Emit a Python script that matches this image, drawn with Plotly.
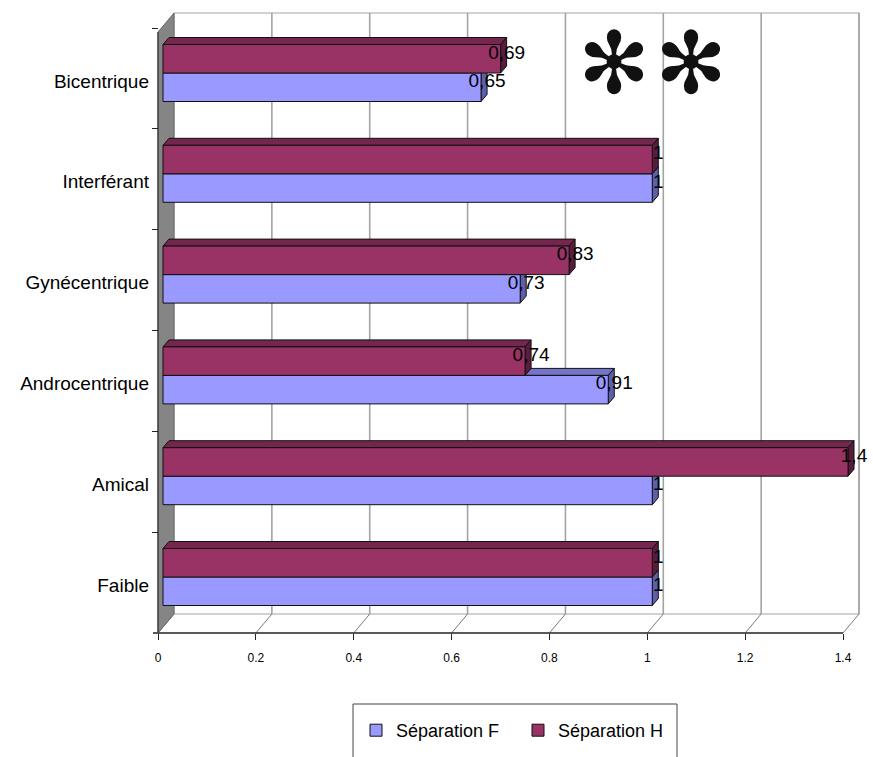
import plotly.graph_objects as go

# ---- data -------------------------------------------------------------
categories = ["Faible", "Amical", "Androcentrique", "Gynécentrique", "Interférant", "Bicentrique"]
sep_f = [1, 1, 0.91, 0.73, 1, 0.65]
sep_h = [1, 1.4, 0.74, 0.83, 1, 0.69]
series_names = ["Séparation F", "Séparation H"]
x_ticks = [0, 0.2, 0.4, 0.6, 0.8, 1, 1.2, 1.4]
x_tick_labels = ["0", "0.2", "0.4", "0.6", "0.8", "1", "1.2", "1.4"]

# ---- page geometry (pixels) -------------------------------------------
W, H = 873, 757
PXU = 489.3          # pixels per value unit
PXC = 100.8          # pixels per category slot
X0_PX = 163          # value 0 on the bar plane
XF_PX = 158          # value 0 on the front (axis) plane
Y0_PX = 577          # first category reference line
X_MAX = 1.4

def dx(p):
    return p / PXU

def dy(p):
    return p / PXC

def ky(py):
    return (Y0_PX - py) / PXC

FRONT_DX = dx(XF_PX - X0_PX)   # front plane relative to bar plane
BACK_DX = dx(11)               # back wall relative to bar plane
FLOOR_FRONT = ky(633)
FLOOR_BACK = ky(614)
WALL_TOP = ky(13)
LEFT_FRONT_TOP = ky(32)
BAR_W = dy(28.5)
DEPTH_X = dx(6)
DEPTH_Y = dy(7)

FONT = "Liberation Sans, Arial, sans-serif"
GRID = "#a3a3a3"

colors = {
    "f": dict(front="#9999FF", top="#7474C8", end="#5E5EAA"),
    "h": dict(front="#993366", top="#74264F", end="#5A1C3D"),
}

shapes = []

# back wall with its grid
shapes.append(dict(type="rect", xref="x", yref="y", layer="below",
                   x0=BACK_DX, x1=X_MAX + BACK_DX, y0=FLOOR_BACK, y1=WALL_TOP,
                   fillcolor="white", line=dict(color=GRID, width=1.2)))
for v in x_ticks[1:]:
    shapes.append(dict(type="line", xref="x", yref="y", layer="below",
                       x0=v + BACK_DX, x1=v + BACK_DX, y0=FLOOR_BACK, y1=WALL_TOP,
                       line=dict(color=GRID, width=1.6)))
# floor
for v in x_ticks:
    shapes.append(dict(type="line", xref="x", yref="y", layer="below",
                       x0=v + FRONT_DX, x1=v + BACK_DX, y0=FLOOR_FRONT, y1=FLOOR_BACK,
                       line=dict(color="#7a7a7a", width=1)))
shapes.append(dict(type="line", xref="x", yref="y", layer="below",
                   x0=FRONT_DX - dx(5), x1=X_MAX + FRONT_DX, y0=FLOOR_FRONT, y1=FLOOR_FRONT,
                   line=dict(color="#222222", width=1.3)))
# left wall
shapes.append(dict(type="path", xref="x", yref="y", layer="below",
                   path=(f"M{FRONT_DX},{FLOOR_FRONT} L{FRONT_DX},{LEFT_FRONT_TOP} "
                         f"L{BACK_DX},{WALL_TOP} L{BACK_DX},{FLOOR_BACK} Z"),
                   fillcolor="#858585", line=dict(color="#6a6a6a", width=1)))
shapes.append(dict(type="line", xref="x", yref="y", layer="below",
                   x0=FRONT_DX, x1=FRONT_DX, y0=FLOOR_FRONT, y1=LEFT_FRONT_TOP,
                   line=dict(color="#333333", width=1.2)))

# white box behind the asterisks
shapes.append(dict(type="rect", xref="paper", yref="paper", layer="below",
                   x0=584 / W, x1=722 / W, y0=1 - 97 / H, y1=1 - 30 / H,
                   fillcolor="white", line=dict(width=0)))


def bar_faces(values, centre_offset, pal):
    out = []
    for i, v in enumerate(values):
        yc = i + centre_offset
        yb, yt = yc - BAR_W / 2, yc + BAR_W / 2
        out.append(dict(type="path", xref="x", yref="y", layer="below",
                        path=(f"M0,{yt} L{v},{yt} L{v + DEPTH_X},{yt + DEPTH_Y} "
                              f"L{DEPTH_X},{yt + DEPTH_Y} Z"),
                        fillcolor=pal["top"], line=dict(color="#111111", width=1)))
        out.append(dict(type="path", xref="x", yref="y", layer="below",
                        path=(f"M{v},{yb} L{v},{yt} L{v + DEPTH_X},{yt + DEPTH_Y} "
                              f"L{v + DEPTH_X},{yb + DEPTH_Y} Z"),
                        fillcolor=pal["end"], line=dict(color="#111111", width=1)))
    return out


shapes += bar_faces(sep_f, -BAR_W / 2, colors["f"])
shapes += bar_faces(sep_h, BAR_W / 2, colors["h"])

fig = go.Figure()
for vals, off, key, name in [(sep_f, -BAR_W / 2, "f", series_names[0]),
                             (sep_h, BAR_W / 2, "h", series_names[1])]:
    fig.add_trace(go.Bar(
        x=vals, y=[i + off for i in range(len(vals))], orientation="h",
        width=BAR_W, base=0, name=name,
        marker=dict(color=colors[key]["front"], line=dict(color="#111111", width=1)),
        hoverinfo="skip"))

for vals, off in [(sep_f, -BAR_W / 2), (sep_h, BAR_W / 2)]:
    fig.add_trace(go.Scatter(
        x=[v + DEPTH_X for v in vals],
        y=[i + off + dy(5) for i in range(len(vals))],
        mode="text", text=[f"{v:g}".replace(".", ",") for v in vals],
        textposition="middle center",
        textfont=dict(family=FONT, size=19, color="black"),
        showlegend=False, hoverinfo="skip"))

# invisible trace to activate the front value axis
fig.add_trace(go.Scatter(x=[0, X_MAX], y=[0, 0], xaxis="x2", mode="markers",
                         marker=dict(opacity=0), showlegend=False, hoverinfo="skip"))

star_font = dict(family="DejaVu Sans, sans-serif", size=86, color="#111111")

fig.update_layout(
    width=W, height=H,
    margin=dict(l=0, r=0, t=0, b=0),
    paper_bgcolor="white", plot_bgcolor="rgba(0,0,0,0)",
    barmode="overlay",
    shapes=shapes,
    xaxis=dict(domain=[0, 1], range=[-X0_PX / PXU, (W - X0_PX) / PXU],
               visible=False, fixedrange=True),
    xaxis2=dict(overlaying="x", anchor="free", position=(H - 633) / H,
                range=[-XF_PX / PXU, (W - XF_PX) / PXU],
                tickmode="array", tickvals=x_ticks, ticktext=x_tick_labels,
                showline=False, ticks="outside", ticklen=6, tickcolor="#222222",
                showgrid=False, zeroline=False, ticklabelstandoff=8,
                tickfont=dict(family=FONT, size=12, color="black")),
    yaxis=dict(domain=[0, 1], range=[ky(H), ky(0)], anchor="free",
               position=XF_PX / W, tickmode="array",
               tickvals=[i - dy(8) for i in range(len(categories))],
               ticktext=categories, ticks="", showline=False, showgrid=False,
               zeroline=False, ticklabelstandoff=9,
               tickfont=dict(family=FONT, size=19, color="black"),
               minor=dict(tickmode="array",
                          tickvals=[i + ky(532) for i in range(len(categories))],
                          ticks="outside", ticklen=6, tickcolor="#222222",
                          showgrid=False)),
    legend=dict(orientation="h", x=356 / W, y=1 - 712 / H, xanchor="left",
                yanchor="top", bgcolor="rgba(0,0,0,0)", borderwidth=0,
                font=dict(family=FONT, size=18, color="black"),
                entrywidthmode="pixels", entrywidth=117),
    annotations=[dict(text="✻", xref="paper", yref="paper", x=614 / W, y=1 - 63 / H,
                      xanchor="center", yanchor="middle", showarrow=False, font=star_font),
                 dict(text="✻", xref="paper", yref="paper", x=691 / W, y=1 - 63 / H,
                      xanchor="center", yanchor="middle", showarrow=False, font=star_font)],
)

# legend frame running off the bottom edge of the page
fig.add_shape(type="rect", xref="paper", yref="paper", layer="above",
              x0=353 / W, x1=677 / W, y0=-0.1, y1=1 - 704 / H,
              line=dict(color="#444444", width=1), fillcolor="rgba(0,0,0,0)")

fig.write_html("out.html")
